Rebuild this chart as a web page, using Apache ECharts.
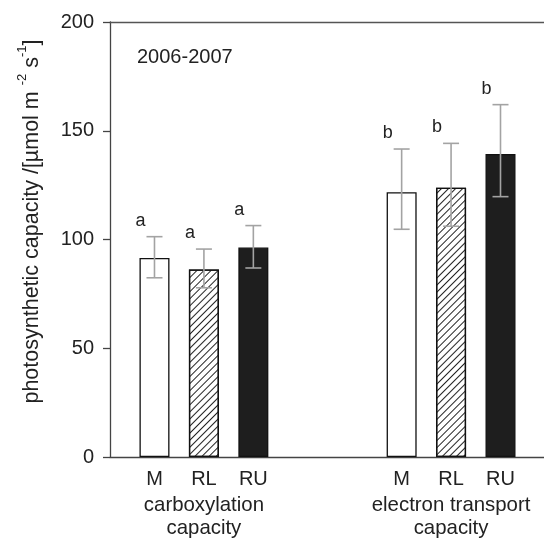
<!DOCTYPE html>
<html><head><meta charset="utf-8">
<script src="https://cdn.jsdelivr.net/npm/echarts@6/dist/echarts.min.js"></script>
<style>html,body{margin:0;padding:0;background:#fff}#c{width:544px;height:539px}</style>
</head><body><div id="c"></div>
<script>
// ---- data ----
const groups = ['carboxylation\ncapacity', 'electron transport\ncapacity'];
const sites = ['M', 'RL', 'RU'];
const means = [[91.5, 86.2, 96.3], [121.7, 123.8, 139.3]];
const errUpper = [[101.3, 95.6, 106.4], [141.6, 144.2, 162.0]];
const errLower = [[82.4, 77.8, 86.9], [104.7, 106.1, 119.7]];
const letters = [['a', 'a', 'a'], ['b', 'b', 'b']];
const yTicks = [0, 50, 100, 150, 200];
const panelLabel = '2006-2007';
const yNameParts = ['photosynthetic capacity /[µmol m ', '-2', ' s', '-1', ']'];

// ---- layout helpers (slot index along x) ----
const slotOf = (g, i) => 1 + g * 5 + i;
const FONT = 'Liberation Sans, Arial, sans-serif';

const styles = [
  { color: '#ffffff', borderColor: '#111', borderWidth: 1.3 },
  { color: '#ffffff', borderColor: '#111', borderWidth: 1.3,
    decal: { symbol: 'rect', symbolSize: 1, dashArrayX: [1, 0], dashArrayY: [1, 3.5],
             rotation: -Math.PI / 4, color: '#222' } },
  { color: '#1e1e1e', borderColor: '#111', borderWidth: 1.3 }
];

const barData = [], errData = [], siteLabel = {}, groupLabel = {};
groups.forEach((gl, g) => {
  groupLabel[slotOf(g, 1)] = gl;
  sites.forEach((s, i) => {
    const x = slotOf(g, i);
    barData.push({ value: [x, means[g][i]], itemStyle: styles[i] });
    errData.push([x, errLower[g][i], errUpper[g][i], letters[g][i]]);
    siteLabel[x] = s;
  });
});

const xRange = { min: 0.1, max: 8.88 };
const chart = echarts.init(document.getElementById('c'), null, { renderer: 'canvas' });
chart.setOption({
  animation: false,
  backgroundColor: '#fff',
  textStyle: { fontFamily: FONT },
  title: {
    text: panelLabel, left: 132, top: 42,
    textStyle: { fontSize: 20, fontWeight: 'normal', color: '#222', fontFamily: FONT }
  },
  grid: { left: 110, right: 0, top: 22, bottom: 82, containLabel: false, outerBoundsMode: 'none' },
  xAxis: [{
    type: 'value', ...xRange, position: 'bottom',
    splitLine: { show: false },
    axisLine: { show: true, lineStyle: { color: '#444', width: 1.3 } },
    axisTick: { show: false },
    axisLabel: {
      customValues: Object.keys(siteLabel).map(Number),
      formatter: v => siteLabel[v] || '',
      showMinLabel: true, showMaxLabel: true,
      margin: 12, fontSize: 20, color: '#222', fontFamily: FONT
    }
  }, {
    type: 'value', ...xRange, position: 'top',
    splitLine: { show: false },
    axisLine: { show: true, onZero: false, lineStyle: { color: '#555', width: 1.3 } },
    axisTick: { show: false }, axisLabel: { show: false }
  }, {
    type: 'value', ...xRange, position: 'bottom',
    splitLine: { show: false },
    axisLine: { show: false }, axisTick: { show: false },
    axisLabel: {
      customValues: Object.keys(groupLabel).map(Number),
      formatter: v => groupLabel[v] || '',
      showMinLabel: true, showMaxLabel: true,
      margin: 37, fontSize: 20.4, lineHeight: 23, color: '#222', fontFamily: FONT
    }
  }],
  yAxis: {
    type: 'value', min: yTicks[0], max: yTicks[yTicks.length - 1], interval: 50,
    splitLine: { show: false },
    axisLine: { show: true, lineStyle: { color: '#444', width: 1.3 } },
    axisTick: { show: true, inside: false, length: 7, lineStyle: { color: '#444', width: 1.3 } },
    axisLabel: { fontSize: 20, color: '#222', margin: 16, fontFamily: FONT },
    name: '{n|' + yNameParts[0] + '}{s|' + yNameParts[1] + '}{n|' + yNameParts[2] + '}{s|' + yNameParts[3] + '}{n|' + yNameParts[4] + '}',
    nameLocation: 'middle', nameGap: 67,
    nameTextStyle: {
      padding: [0, 0, 0, 36],
      rich: {
        n: { fontSize: 21.5, lineHeight: 27, color: '#222', fontFamily: FONT, verticalAlign: 'bottom' },
        s: { fontSize: 13, lineHeight: 27, color: '#222', fontFamily: FONT, verticalAlign: 'top' }
      }
    }
  },
  series: [{
    type: 'bar', data: barData, barWidth: 30, xAxisIndex: 0
  }, {
    type: 'custom', data: errData, xAxisIndex: 0, z: 5,
    renderItem: (params, api) => {
      const x = api.value(0);
      const lo = api.coord([x, api.value(1)]);
      const hi = api.coord([x, api.value(2)]);
      const half = 8;
      const ls = { stroke: '#a3a3a3', lineWidth: 1.6 };
      return {
        type: 'group', children: [
          { type: 'line', shape: { x1: lo[0], y1: lo[1], x2: hi[0], y2: hi[1] }, style: ls },
          { type: 'line', shape: { x1: lo[0] - half, y1: lo[1], x2: lo[0] + half, y2: lo[1] }, style: ls },
          { type: 'line', shape: { x1: hi[0] - half, y1: hi[1], x2: hi[0] + half, y2: hi[1] }, style: ls },
          { type: 'text', x: hi[0] - 14, y: hi[1] - 7,
            style: { text: api.value(3), fill: '#222', fontSize: 18, fontFamily: FONT,
                     align: 'center', verticalAlign: 'bottom' } }
        ]
      };
    }
  }]
});
</script></body></html>
